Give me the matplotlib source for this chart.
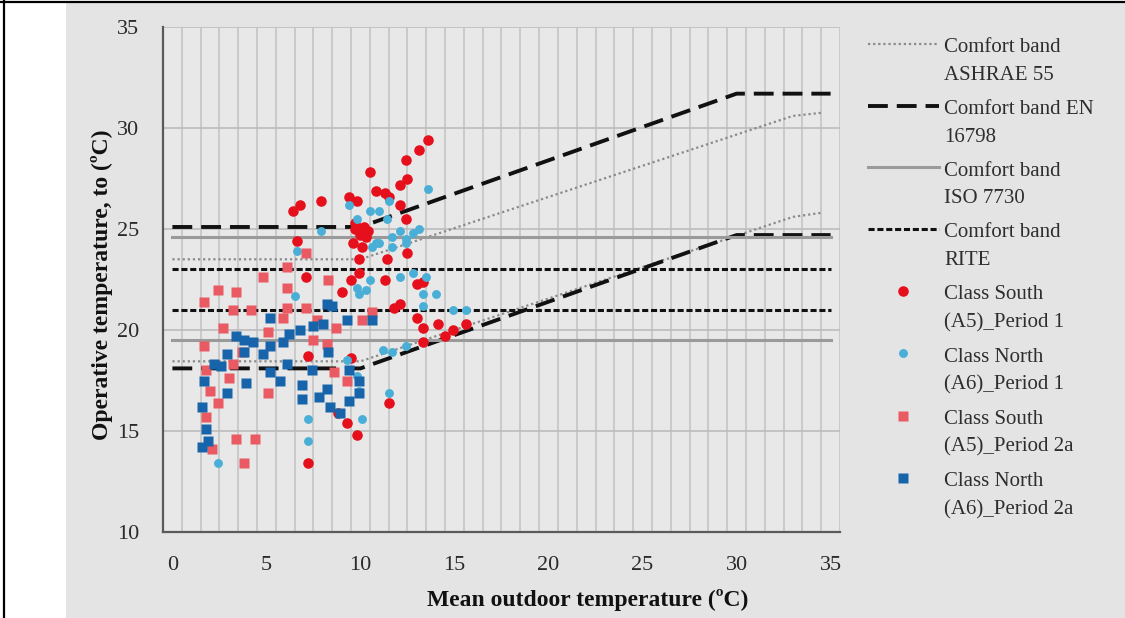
import numpy as np
import matplotlib
matplotlib.use("Agg")
import matplotlib.pyplot as plt
from matplotlib.lines import Line2D
from matplotlib.patches import Rectangle
from matplotlib.legend_handler import HandlerLine2D

plt.rcParams['font.family'] = ['Liberation Serif', 'DejaVu Serif']

# ---------------- data ----------------
band_x = [0, 10, 30, 35]
en_upper = [25.1, 25.1, 31.7, 31.7]
en_lower = [18.1, 18.1, 24.7, 24.7]

ashrae_x = [0, 10, 33, 34.5]
ashrae_upper = [23.5, 23.5, 30.6, 30.75]
ashrae_lower = [18.45, 18.45, 25.6, 25.8]

flat_x = [0, 35]
iso_upper = [24.6, 24.6]
iso_lower = [19.5, 19.5]
rite_upper = [23.0, 23.0]
rite_lower = [21.0, 21.0]

south_p1_x = [6.4, 6.8, 6.6, 7.9, 7.1, 7.2, 7.2, 8.8, 9.0, 9.3, 9.4, 9.5, 9.5, 9.6, 9.7,
              9.8, 9.8, 9.9, 9.9, 10.0, 10.1, 10.2, 10.3, 10.5, 10.8, 11.3, 11.5, 11.4, 11.3,
              11.5, 11.8, 12.1, 12.1, 12.1, 12.4, 12.4, 12.5, 12.5, 13.0, 13.0, 13.1, 13.3,
              13.3, 13.3, 13.6, 14.1, 14.5, 14.9, 15.6, 9.7, 10.4]
south_p1_y = [25.9, 26.2, 24.4, 26.4, 22.6, 18.7, 13.4, 15.9, 21.9, 15.4, 26.6, 22.5, 18.6, 24.3, 25.0,
              26.4, 14.8, 23.5, 22.8, 24.7, 24.1, 25.1, 24.6, 27.8, 26.9, 26.8, 26.6, 23.5, 22.5,
              16.4, 21.1, 21.3, 26.2, 27.2, 25.5, 28.4, 27.5, 23.8, 22.3, 20.6, 28.9, 22.4,
              20.1, 19.4, 29.4, 20.3, 19.7, 20.0, 20.3, 25.3, 24.9]

north_p1_x = [1.7, 2.4, 6.5, 6.6, 7.1, 7.2, 7.2, 7.9, 9.3, 9.4, 9.8, 9.8, 9.8, 9.9, 9.9, 10.1,
              10.3, 10.5, 10.5, 10.6, 10.8, 11.0, 11.0, 11.4, 11.5, 11.5, 11.7, 11.7, 11.7,
              12.1, 12.1, 12.4, 12.4, 12.4, 12.8, 12.8, 13.1, 13.3, 13.3, 13.5, 13.6, 14.0,
              14.9, 15.6, 11.2]
north_p1_y = [14.2, 13.4, 21.7, 23.9, 23.8, 15.6, 14.5, 24.9, 18.5, 26.2, 25.5, 22.1, 17.7, 21.8, 17.0, 15.6,
              22.0, 25.9, 22.5, 24.1, 24.3, 25.9, 24.3, 25.5, 26.4, 16.9, 24.6, 24.1, 18.9,
              24.9, 22.6, 24.5, 24.3, 19.2, 24.8, 22.8, 25.0, 21.8, 21.2, 22.6, 27.0, 21.8,
              21.0, 21.0, 19.0]

south_p2a_x = [1.7, 1.7, 1.8, 1.8, 2.0, 2.1, 2.4, 2.4, 2.7, 3.0, 3.2, 3.2, 3.4, 3.4, 3.7, 3.8,
               4.2, 4.4, 4.8, 5.1, 5.1, 5.9, 6.1, 6.1, 6.1, 7.1, 7.1, 7.5, 7.7, 8.2, 8.3, 8.6,
               8.7, 9.3, 10.1, 10.6]
south_p2a_y = [21.4, 19.2, 18.0, 15.7, 17.0, 14.1, 22.0, 16.4, 20.1, 17.6, 21.0, 18.3, 21.9, 14.6, 18.9, 13.4,
               21.0, 14.6, 22.6, 19.9, 16.9, 20.6, 23.1, 22.1, 21.1, 23.8, 21.1, 19.5, 20.5, 19.3, 22.5, 17.9,
               20.1, 17.5, 20.5, 20.9]

north_p2a_x = [1.6, 1.6, 1.7, 1.8, 1.9, 2.2, 2.6, 2.9, 2.9, 3.4, 3.8, 3.8, 3.9, 4.3, 4.8, 5.2,
               5.2, 5.2, 5.7, 5.9, 6.1, 6.2, 6.8, 6.9, 6.9, 7.4, 7.5, 7.8, 8.0, 8.2, 8.2, 8.3,
               8.4, 8.5, 8.9, 9.3, 9.4, 9.4, 9.9, 9.9, 10.6]
north_p2a_y = [16.2, 14.2, 17.5, 15.1, 14.5, 18.3, 18.2, 18.8, 16.9, 19.7, 19.5, 18.9, 17.4, 19.4, 18.8, 20.6,
               19.2, 17.9, 17.5, 19.4, 18.3, 19.8, 20.0, 17.3, 16.6, 18.0, 20.2, 16.7, 20.3, 21.3, 17.1, 18.9,
               16.2, 21.2, 15.9, 20.5, 18.0, 16.5, 17.5, 16.9, 20.5]

labels = ["Comfort band\nASHRAE 55", "Comfort band EN\n16798", "Comfort band\nISO 7730",
          "Comfort band\nRITE", "Class South\n(A5)_Period 1", "Class North\n(A6)_Period 1",
          "Class South\n(A5)_Period 2a", "Class North\n(A6)_Period 2a"]
x_ticks = [0, 5, 10, 15, 20, 25, 30, 35]
y_ticks = [10, 15, 20, 25, 30, 35]

# ---------------- figure ----------------
W, H = 1125, 618
fig = plt.figure(figsize=(W / 100, H / 100), dpi=100, facecolor='white')
fig.patches.append(Rectangle((66 / W, 0), 1 - 66 / W, 1 - 3 / H, transform=fig.transFigure,
                             facecolor='#e4e4e4', edgecolor='none', zorder=-20))
fig.add_artist(Line2D([0, 1], [1 - 1.5 / H, 1 - 1.5 / H], transform=fig.transFigure, color='black', lw=1.6))
fig.add_artist(Line2D([4 / W, 4 / W], [0, 1], transform=fig.transFigure, color='black', lw=1.6))

ax = fig.add_axes([163 / W, (H - 532) / H, 677 / W, 505 / H])
ax.set_facecolor('#e8e8e8')
ax.set_xlim(-0.5, 35.5)
ax.set_ylim(10, 35)

# grid
ax.set_xticks(np.arange(-0.5, 35.6, 1.0), minor=True)
ax.grid(which='minor', axis='x', color='#c4c4c4', lw=1.2, zorder=0)
ax.set_yticks(y_ticks)
ax.grid(which='major', axis='y', color='#bcbcbc', lw=1.2, zorder=0)
ax.tick_params(which='minor', length=0)
ax.set_xticks(x_ticks)
ax.tick_params(which='major', length=0, labelsize=16, labelcolor='#2a2a2a', pad=17)
for s in ['top', 'right']:
    ax.spines[s].set_visible(False)
for s in ['left', 'bottom']:
    ax.spines[s].set_color('#5a5a5a')
    ax.spines[s].set_linewidth(1.6)

# comfort bands
h_ash, = ax.plot(ashrae_x, ashrae_upper, color='#8a8a8a', lw=1.6, ls=(0, (1, 1.3)), zorder=3)
ax.plot(ashrae_x, ashrae_lower, color='#8a8a8a', lw=1.6, ls=(0, (1, 1.3)), zorder=3)
h_en, = ax.plot(band_x, en_upper, color='#111111', lw=2.8, ls=(0, (5.1, 2.3)), zorder=3)
ax.plot(band_x, en_lower, color='#111111', lw=2.8, ls=(0, (5.1, 2.3)), zorder=3)
h_iso, = ax.plot(flat_x, iso_upper, color='#9a9a9a', lw=2.2, zorder=3)
ax.plot(flat_x, iso_lower, color='#9a9a9a', lw=2.2, zorder=3)
h_rite, = ax.plot(flat_x, rite_upper, color='#111111', lw=2.2, ls=(0, (2, 0.9)), zorder=3)
ax.plot(flat_x, rite_lower, color='#111111', lw=2.2, ls=(0, (2, 0.9)), zorder=3)

# scatter series
h_s1, = ax.plot(south_p1_x, south_p1_y, ls='none', marker='o', ms=7.6, color='#e5101b', mec='none', zorder=4)
h_n1, = ax.plot(north_p1_x, north_p1_y, ls='none', marker='o', ms=6.4, color='#4aafd7', mec='none', zorder=4)
h_s2, = ax.plot(south_p2a_x, south_p2a_y, ls='none', marker='s', ms=6.6, color='#ea5a62', mec='none', zorder=4)
h_n2, = ax.plot(north_p2a_x, north_p2a_y, ls='none', marker='s', ms=6.6, color='#1764ab', mec='none', zorder=4)

ax.set_xlabel('Mean outdoor temperature (ºC)', fontsize=17, fontweight='bold', color='#111111')
ax.set_ylabel('Operative temperature, to (ºC)', fontsize=17, fontweight='bold', color='#111111')
ax.xaxis.set_label_coords((588 - 163) / 677, (532 - 589) / 505)
ax.yaxis.set_label_coords((113 - 163) / 677, (532 - 285) / 505)


class FirstLineHandler(HandlerLine2D):
    def __init__(self, shift, **kw):
        super().__init__(**kw)
        self.shift = shift

    def create_artists(self, legend, orig_handle, xdescent, ydescent, width, height, fontsize, trans):
        arts = super().create_artists(legend, orig_handle, xdescent, ydescent, width, height, fontsize, trans)
        for a in arts:
            a.set_ydata(np.asarray(a.get_ydata(), dtype=float) + self.shift)
        return arts


handles = [h_ash, h_en, h_iso, h_rite, h_s1, h_n1, h_s2, h_n2]
leg = fig.legend(handles, labels, loc='upper left', bbox_to_anchor=(868 / W, 1 - 38 / H),
                 bbox_transform=fig.transFigure, frameon=False, fontsize=15,
                 handlelength=3.4, handletextpad=0.25, labelspacing=0.72, borderpad=0,
                 borderaxespad=0, numpoints=1,
                 handler_map={Line2D: FirstLineHandler(12.5)})
for t in leg.get_texts():
    t.set_linespacing(1.63)
    t.set_color('#2e2e2e')

fig.savefig('out.png', dpi=100, facecolor=fig.get_facecolor())
